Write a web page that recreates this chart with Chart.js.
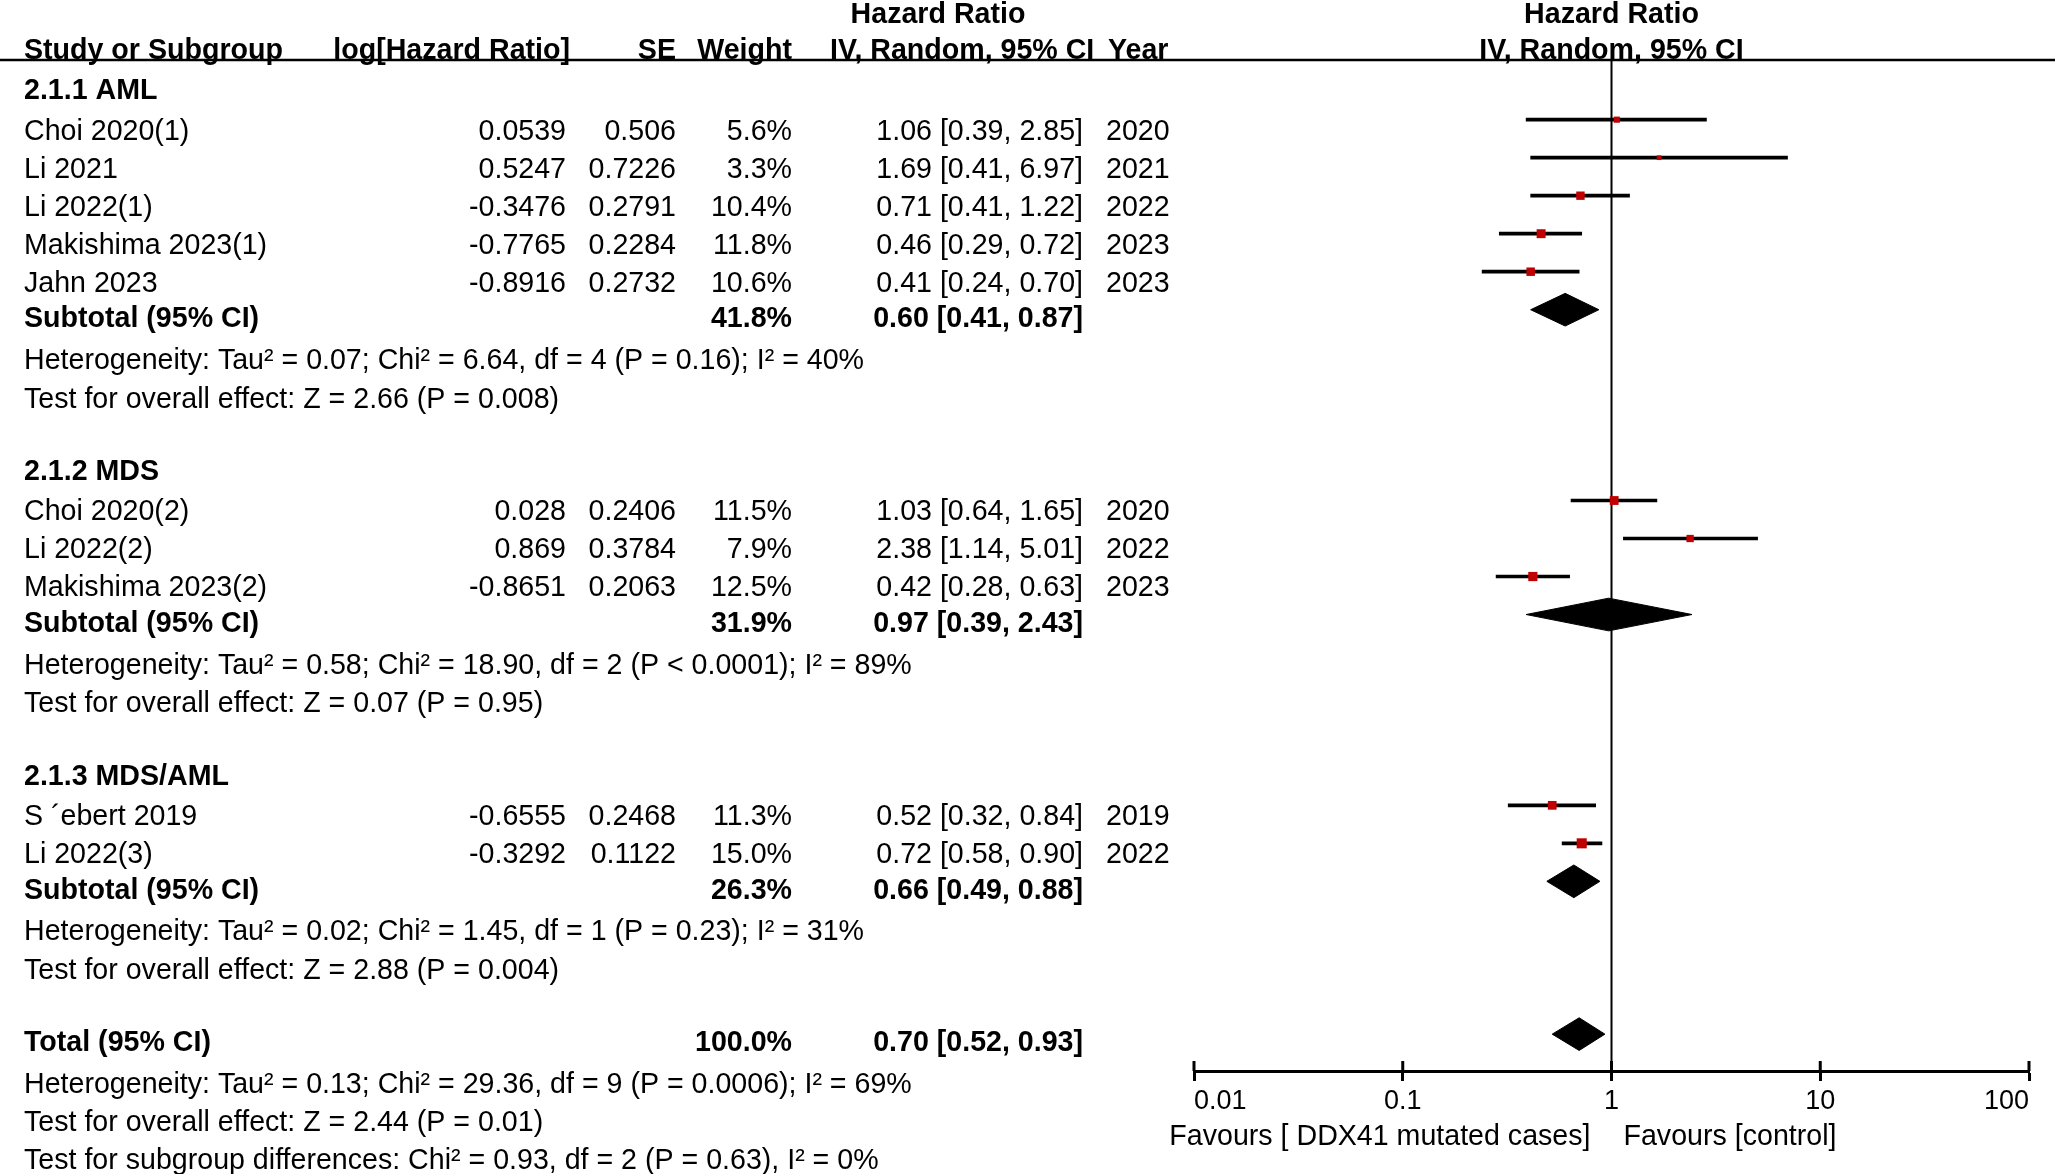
<!DOCTYPE html>
<html>
<head>
<meta charset="utf-8">
<title>DDX41 hazard ratio forest plot</title>
<script src="https://cdn.jsdelivr.net/npm/chart.js@4.4.1/dist/chart.umd.min.js"></script>
<style>
  html, body { margin:0; padding:0; background:#fff; overflow:hidden; }
  #wrap { width:2055px; height:1174px; }
</style>
</head>
<body>
<div id="wrap"><canvas id="forest" width="2055" height="1174"></canvas></div>
<script>
// ---- data ----
const studyNames = ['Choi 2020(1)','Li 2021','Li 2022(1)','Makishima 2023(1)','Jahn 2023',
                    'Choi 2020(2)','Li 2022(2)','Makishima 2023(2)',
                    'S \u00b4ebert 2019','Li 2022(3)'];
const studyGroup = [0,0,0,0,0, 1,1,1, 2,2];
const logHR  = [0.0539, 0.5247, -0.3476, -0.7765, -0.8916, 0.028, 0.869, -0.8651, -0.6555, -0.3292];
const seVals = [0.506, 0.7226, 0.2791, 0.2284, 0.2732, 0.2406, 0.3784, 0.2063, 0.2468, 0.1122];
const weights = [5.6, 3.3, 10.4, 11.8, 10.6, 11.5, 7.9, 12.5, 11.3, 15.0];
const hr     = [1.06, 1.69, 0.71, 0.46, 0.41, 1.03, 2.38, 0.42, 0.52, 0.72];
const ciLow  = [0.39, 0.41, 0.41, 0.29, 0.24, 0.64, 1.14, 0.28, 0.32, 0.58];
const ciHigh = [2.85, 6.97, 1.22, 0.72, 0.70, 1.65, 5.01, 0.63, 0.84, 0.90];
const years  = [2020, 2021, 2022, 2023, 2023, 2020, 2022, 2023, 2019, 2022];

const groupNames = ['2.1.1 AML', '2.1.2 MDS', '2.1.3 MDS/AML'];
const subWeight = [41.8, 31.9, 26.3];
const subHR   = [0.60, 0.97, 0.66];
const subLow  = [0.41, 0.39, 0.49];
const subHigh = [0.87, 2.43, 0.88];
const subHet = [
  'Heterogeneity: Tau\u00b2 = 0.07; Chi\u00b2 = 6.64, df = 4 (P = 0.16); I\u00b2 = 40%',
  'Heterogeneity: Tau\u00b2 = 0.58; Chi\u00b2 = 18.90, df = 2 (P < 0.0001); I\u00b2 = 89%',
  'Heterogeneity: Tau\u00b2 = 0.02; Chi\u00b2 = 1.45, df = 1 (P = 0.23); I\u00b2 = 31%'
];
const subTest = [
  'Test for overall effect: Z = 2.66 (P = 0.008)',
  'Test for overall effect: Z = 0.07 (P = 0.95)',
  'Test for overall effect: Z = 2.88 (P = 0.004)'
];
const totalHR = [0.70, 0.52, 0.93];   // estimate, low, high
const totalNotes = [
  'Heterogeneity: Tau\u00b2 = 0.13; Chi\u00b2 = 29.36, df = 9 (P = 0.0006); I\u00b2 = 69%',
  'Test for overall effect: Z = 2.44 (P = 0.01)',
  'Test for subgroup differences: Chi\u00b2 = 0.93, df = 2 (P = 0.63), I\u00b2 = 0%'
];
const axisTicks = [0.01, 0.1, 1, 10, 100];
const nullEffect = 1;
const favourLabels = ['Favours [ DDX41 mutated cases]', 'Favours [control]'];

// ---- layout ----
const FONT = '"Liberation Sans", Arial, Helvetica, sans-serif';
const FS = 28.6;
const COL = { name: 24, log: 566, se: 676, weight: 792, ci: 1083, ciHead: 830, year: 1106, hrHead: 938 };
const MARK_SHIFT = 0.26, DIA_SHIFT = 0.19, DIA_HALF = 0.43;
const Y_MAX = 26.6;

function buildRows() {
  const rows = [];
  let y = 0;
  groupNames.forEach((g, gi) => {
    y += gi === 0 ? 0.76 : 1.9;
    rows.push({kind: 'group', y, text: g});
    let first = true;
    studyNames.forEach((n, i) => {
      if (studyGroup[i] !== gi) return;
      y += first ? 1.07 : 1.0; first = false;
      rows.push({kind: 'study', y, i});
    });
    y += 0.93; rows.push({kind: 'subtotal', y, gi});
    y += 1.1;  rows.push({kind: 'note', y, text: subHet[gi]});
    y += 1.02; rows.push({kind: 'note', y, text: subTest[gi]});
  });
  y += 1.9; rows.push({kind: 'total', y});
  totalNotes.forEach((t, k) => { y += k === 0 ? 1.1 : 1.0; rows.push({kind: 'note', y, text: t}); });
  return rows;
}
const rows = buildRows();
const studyRows = rows.filter(r => r.kind === 'study');

function diamond(est, lo, hi, yc) {
  return [
    {x: lo, y: yc}, {x: est, y: yc - DIA_HALF}, {x: hi, y: yc}, {x: est, y: yc + DIA_HALF}, {x: lo, y: yc}
  ];
}
const diamondSets = rows.filter(r => r.kind === 'subtotal' || r.kind === 'total').map(r => {
  const v = r.kind === 'total' ? totalHR : [subHR[r.gi], subLow[r.gi], subHigh[r.gi]];
  return {
    type: 'line', order: 0,
    data: diamond(v[0], v[1], v[2], r.y - DIA_SHIFT),
    borderColor: '#000', borderWidth: 1, backgroundColor: '#000',
    fill: 'shape', pointRadius: 0, tension: 0
  };
});

const f2 = v => v.toFixed(2);
const ciText = (e, l, h) => `${f2(e)} [${f2(l)}, ${f2(h)}]`;

function txt(ctx, s, x, y, align, bold) {
  ctx.font = (bold ? 'bold ' : '') + FS + 'px ' + FONT;
  ctx.textAlign = align;
  ctx.textBaseline = 'alphabetic';
  ctx.fillText(s, x, y + 10);
}

const tablePlugin = {
  id: 'table',
  afterDraw(chart) {
    const {ctx, chartArea, scales: {x, y}} = chart;
    const one = x.getPixelForValue(nullEffect);
    ctx.save();
    ctx.fillStyle = '#000';
    // header
    const h1 = y.getPixelForValue(-1.24), h2 = y.getPixelForValue(-0.28);
    txt(ctx, 'Hazard Ratio', COL.hrHead, h1, 'center', true);
    txt(ctx, 'Hazard Ratio', one, h1, 'center', true);
    txt(ctx, 'Study or Subgroup', COL.name, h2, 'left', true);
    txt(ctx, 'log[Hazard Ratio]', COL.log + 4, h2, 'right', true);
    txt(ctx, 'SE', COL.se, h2, 'right', true);
    txt(ctx, 'Weight', COL.weight, h2, 'right', true);
    txt(ctx, 'IV, Random, 95% CI', COL.ciHead, h2, 'left', true);
    txt(ctx, 'Year', COL.year + 2, h2, 'left', true);
    txt(ctx, 'IV, Random, 95% CI', one, h2, 'center', true);
    ctx.strokeStyle = '#000';
    ctx.lineWidth = 2.5;
    ctx.beginPath();
    ctx.moveTo(0, chartArea.top); ctx.lineTo(chart.width, chartArea.top);
    ctx.stroke();

    // rows
    rows.forEach(r => {
      const py = y.getPixelForValue(r.y);
      if (r.kind === 'group') txt(ctx, r.text, COL.name, py, 'left', true);
      else if (r.kind === 'note') txt(ctx, r.text, COL.name, py, 'left', false);
      else if (r.kind === 'study') {
        const i = r.i;
        txt(ctx, studyNames[i], COL.name, py, 'left', false);
        txt(ctx, String(logHR[i]), COL.log, py, 'right', false);
        txt(ctx, String(seVals[i]), COL.se, py, 'right', false);
        txt(ctx, weights[i].toFixed(1) + '%', COL.weight, py, 'right', false);
        txt(ctx, ciText(hr[i], ciLow[i], ciHigh[i]), COL.ci, py, 'right', false);
        txt(ctx, String(years[i]), COL.year, py, 'left', false);
      } else if (r.kind === 'subtotal') {
        txt(ctx, 'Subtotal (95% CI)', COL.name, py, 'left', true);
        txt(ctx, subWeight[r.gi].toFixed(1) + '%', COL.weight, py, 'right', true);
        txt(ctx, ciText(subHR[r.gi], subLow[r.gi], subHigh[r.gi]), COL.ci, py, 'right', true);
      } else if (r.kind === 'total') {
        txt(ctx, 'Total (95% CI)', COL.name, py, 'left', true);
        txt(ctx, '100.0%', COL.weight, py, 'right', true);
        txt(ctx, ciText(totalHR[0], totalHR[1], totalHR[2]), COL.ci, py, 'right', true);
      }
    });

    // upper halves of the axis ticks
    ctx.lineWidth = 3;
    axisTicks.forEach(v => {
      const px = x.getPixelForValue(v);
      ctx.beginPath();
      ctx.moveTo(px, chartArea.bottom - 10); ctx.lineTo(px, chartArea.bottom);
      ctx.stroke();
    });
    // favours labels
    const fy = chartArea.bottom + 64;
    txt(ctx, favourLabels[0], one - 21, fy, 'right', false);
    txt(ctx, favourLabels[1], one + 12, fy, 'left', false);
    ctx.restore();
  }
};

new Chart(document.getElementById('forest'), {
  data: {
    datasets: [
      {
        type: 'scatter', order: 0,
        data: studyRows.map(r => ({x: hr[r.i], y: r.y - MARK_SHIFT})),
        pointStyle: 'rect',
        pointRadius: studyRows.map(r => Math.sqrt(weights[r.i]) * 2.6 / Math.SQRT2),
        backgroundColor: '#c00000', borderWidth: 0
      },
      {
        type: 'bar', order: 1, indexAxis: 'y',
        data: studyRows.map(r => ({x: [ciLow[r.i], ciHigh[r.i]], y: r.y - MARK_SHIFT})),
        backgroundColor: '#000', borderWidth: 0, barThickness: 3
      },
      {
        // line of no effect
        type: 'line', order: 2,
        data: [{x: nullEffect, y: 0}, {x: nullEffect, y: Y_MAX}],
        borderColor: '#000', borderWidth: 2, pointRadius: 0, fill: false
      },
      ...diamondSets
    ]
  },
  options: {
    responsive: false,
    animation: false,
    events: [],
    layout: { padding: { left: 1194, right: 26, top: 60, bottom: 0 } },
    plugins: { legend: { display: false }, tooltip: { enabled: false } },
    scales: {
      x: {
        type: 'logarithmic', min: 0.01, max: 100, offset: false,
        afterBuildTicks: s => { s.ticks = axisTicks.map(v => ({value: v})); },
        afterFit: s => { s.height = 103; },
        border: { display: true, color: '#000', width: 3 },
        grid: {
          drawOnChartArea: false, offset: false,
          tickColor: '#000', tickWidth: 3, tickLength: 10
        },
        ticks: {
          color: '#000', font: { family: FONT, size: 27 }, padding: 4,
          autoSkip: false, maxRotation: 0, align: 'inner',
          callback: v => String(v)
        }
      },
      y: { type: 'linear', min: 0, max: Y_MAX, reverse: true, offset: false, display: false }
    }
  },
  plugins: [tablePlugin]
});
</script>
</body>
</html>
